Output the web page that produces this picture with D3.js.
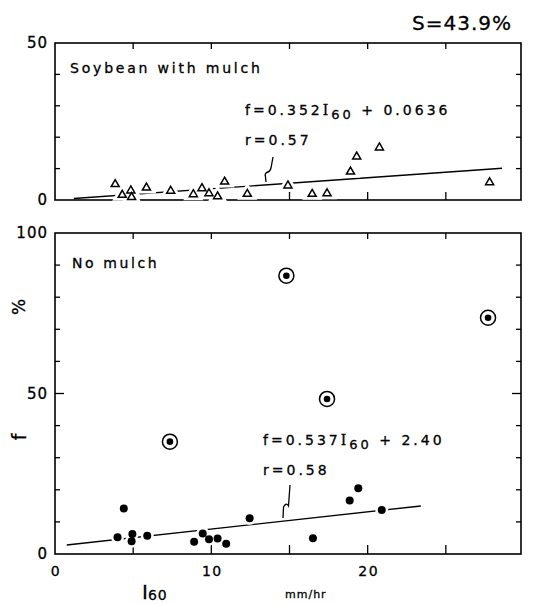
<!DOCTYPE html>
<html>
<head>
<meta charset="utf-8">
<script src="https://cdn.jsdelivr.net/npm/d3@7"></script>
<style>
  body { margin: 0; background: #fff; }
  svg text { font-family: "DejaVu Sans", sans-serif; fill: #000; stroke: #000; stroke-width: 0.3px; }
</style>
</head>
<body>
<div id="chart"></div>
<script>
// soybean with mulch (triangles)
const soyI60 = [3.85, 4.3, 4.85, 4.9, 5.85, 7.4, 8.85, 9.4, 9.85, 10.4, 10.85, 12.3, 14.9, 16.45, 17.4, 18.9, 19.3, 20.75, 27.8];
const soyF   = [5.0, 1.6, 3.0, 0.9, 3.9, 2.9, 1.8, 3.7, 2.1, 1.1, 5.8, 1.9, 4.6, 1.9, 2.1, 9.0, 13.8, 16.7, 5.6];

// no mulch (dots)
const noI60 = [4.0, 4.4, 4.95, 4.9, 5.9, 8.9, 9.45, 9.85, 10.4, 10.95, 12.45, 16.5, 18.85, 19.4, 20.9];
const noF   = [5.2, 14.2, 6.2, 4.0, 5.7, 3.8, 6.4, 4.6, 4.8, 3.2, 11.1, 4.9, 16.7, 20.5, 13.7];

// no mulch, circled points
const outI60 = [7.35, 14.8, 17.4, 27.7];
const outF   = [35.0, 86.7, 48.3, 73.6];

// regression lines: slope, intercept, x range drawn
const soyFit = {a: 0.352, b: 0.0636, from: 1.2, to: 28.6};
const noFit  = {a: 0.537, b: 2.40, from: 0.75, to: 23.4};

const xTicks = [5, 10, 15, 20, 25];
const xLabels = [0, 10, 20];
const topTicks = [10, 20, 30, 40];
const topLabels = [0, 50];
const botTicks = [10, 20, 30, 40, 50, 60, 70, 80, 90];
const botLabels = [0, 50, 100];

const W = 533, H = 604;
const L = 55, R = 521;

const svg = d3.select('#chart').append('svg')
  .attr('width', W).attr('height', H);

const x = d3.scaleLinear().domain([0, 30]).range([L, 524]);
const yTop = d3.scaleLinear().domain([0, 50]).range([200, 43]);
const yBot = d3.scaleLinear().domain([0, 100]).range([554, 233]);

function frame(y, yt, yl, big){
  const y0 = y.range()[0], y1 = y.range()[1];
  svg.append('rect')
    .attr('x', L).attr('y', y1).attr('width', R - L).attr('height', y0 - y1)
    .attr('fill', 'none').attr('stroke', '#000').attr('stroke-width', 1.6);

  // inward ticks
  const g = svg.append('g').attr('stroke', '#000').attr('stroke-width', 1.3);
  xTicks.forEach(function(t){
    g.append('line').attr('x1', x(t)).attr('x2', x(t)).attr('y1', y1).attr('y2', y1 + 6);
    g.append('line').attr('x1', x(t)).attr('x2', x(t)).attr('y1', y0).attr('y2', y0 - (big ? 9 : 8));
  });
  yt.forEach(function(t){
    const len = (t === 50) ? 9 : 5;
    g.append('line').attr('x1', L).attr('x2', L + len).attr('y1', y(t)).attr('y2', y(t));
    g.append('line').attr('x1', R).attr('x2', R - len).attr('y1', y(t)).attr('y2', y(t));
  });

  svg.selectAll(null).data(yl).enter().append('text')
    .attr('x', L - 7).attr('y', function(d){ return y(d) + 5; })
    .attr('text-anchor', 'end')
    .attr('font-size', 15).attr('letter-spacing', 1)
    .text(function(d){ return d; });
}

frame(yTop, topTicks, topLabels, false);
frame(yBot, botTicks, botLabels, true);

// x labels, bottom panel only
svg.selectAll(null).data(xLabels).enter().append('text')
  .attr('x', function(d){ return x(d) + 1; }).attr('y', 576)
  .attr('text-anchor', 'middle')
  .attr('font-size', 14).attr('letter-spacing', 1.5)
  .text(function(d){ return d; });

function fitLine(fit, y){
  svg.append('line')
    .attr('x1', x(fit.from)).attr('y1', y(fit.a * fit.from + fit.b))
    .attr('x2', x(fit.to)).attr('y2', y(fit.a * fit.to + fit.b))
    .attr('stroke', '#000').attr('stroke-width', 1.4);
}
fitLine(soyFit, yTop);
fitLine(noFit, yBot);

// top panel triangles, white halo breaks the line near points
const tri = d3.symbol().type(d3.symbolTriangle).size(28);
const soy = d3.range(soyI60.length);
svg.selectAll(null).data(soy).enter().append('path')
  .attr('d', tri)
  .attr('transform', function(i){ return `translate(${x(soyI60[i])},${yTop(soyF[i])})`; })
  .attr('fill', '#fff').attr('stroke', '#fff').attr('stroke-width', 7);
svg.selectAll(null).data(soy).enter().append('path')
  .attr('d', tri)
  .attr('transform', function(i){ return `translate(${x(soyI60[i])},${yTop(soyF[i])})`; })
  .attr('fill', '#fff').attr('stroke', '#000').attr('stroke-width', 1.5);

// bottom panel dots
const no = d3.range(noI60.length);
svg.selectAll(null).data(no).enter().append('circle')
  .attr('cx', function(i){ return x(noI60[i]); })
  .attr('cy', function(i){ return yBot(noF[i]); })
  .attr('r', 6.5).attr('fill', '#fff');
svg.selectAll(null).data(no).enter().append('circle')
  .attr('cx', function(i){ return x(noI60[i]); })
  .attr('cy', function(i){ return yBot(noF[i]); })
  .attr('r', 4).attr('fill', '#000');

const out = d3.range(outI60.length);
svg.selectAll(null).data(out).enter().append('circle')
  .attr('cx', function(i){ return x(outI60[i]); })
  .attr('cy', function(i){ return yBot(outF[i]); })
  .attr('r', 7.5).attr('fill', '#fff').attr('stroke', '#000').attr('stroke-width', 1.5);
svg.selectAll(null).data(out).enter().append('circle')
  .attr('cx', function(i){ return x(outI60[i]); })
  .attr('cy', function(i){ return yBot(outF[i]); })
  .attr('r', 3.3).attr('fill', '#000');

// annotation hooks from r= text to fit line
svg.append('path')
  .attr('d', 'M273,157 L271,168 Q270,172 266.5,172.5 Q264.5,174 265.5,177 L266,182')
  .attr('fill', 'none').attr('stroke', '#000').attr('stroke-width', 1.3);
svg.append('path')
  .attr('d', 'M290,485 L288.5,506 Q286,502 283.5,507 L283,518')
  .attr('fill', 'none').attr('stroke', '#000').attr('stroke-width', 1.3);

// equations
function equation(xp, yp, a, b, r){
  const t = svg.append('text').attr('x', xp).attr('y', yp)
    .attr('font-size', 14).attr('letter-spacing', 3);
  t.append('tspan').text(`f=${a}`);
  t.append('tspan').attr('font-family', 'DejaVu Serif, serif').text('I');
  t.append('tspan').attr('dy', 4).attr('font-size', 13).text('60');
  t.append('tspan').attr('dy', -4).text(` + ${b}`);
  svg.append('text').attr('x', xp).attr('y', yp + 30)
    .attr('font-size', 14).attr('letter-spacing', 3)
    .text(`r=${r}`);
}
equation(245, 115, '0.352', '0.0636', '0.57');
equation(263, 445, '0.537', '2.40', '0.58');

// panel titles
svg.append('text').attr('x', 70).attr('y', 73)
  .attr('font-size', 14).attr('letter-spacing', 2.8)
  .text('Soybean with mulch');
svg.append('text').attr('x', 72).attr('y', 268)
  .attr('font-size', 14).attr('letter-spacing', 2.6)
  .text('No mulch');

svg.append('text').attr('x', 512).attr('y', 30)
  .attr('text-anchor', 'end').attr('font-family', 'Liberation Sans, sans-serif')
  .attr('font-size', 20).attr('letter-spacing', 1)
  .text('S=43.9%');

// axis titles
svg.append('text').attr('transform', 'translate(25,307) rotate(-90)')
  .attr('text-anchor', 'middle').attr('font-size', 17).text('%');
svg.append('text').attr('transform', 'translate(26,437) rotate(-90)')
  .attr('text-anchor', 'middle').attr('font-size', 19).text('f');

const xt = svg.append('text').attr('x', 142).attr('y', 599)
  .attr('font-family', 'DejaVu Serif, serif').attr('font-size', 20);
xt.append('tspan').text('I');
xt.append('tspan').attr('dy', 1).attr('font-family', 'DejaVu Sans, sans-serif')
  .attr('font-size', 14).attr('letter-spacing', 1).text('60');

svg.append('text').attr('x', 285).attr('y', 598)
  .attr('font-size', 11).attr('letter-spacing', 1).text('mm/hr');
</script>
</body>
</html>
